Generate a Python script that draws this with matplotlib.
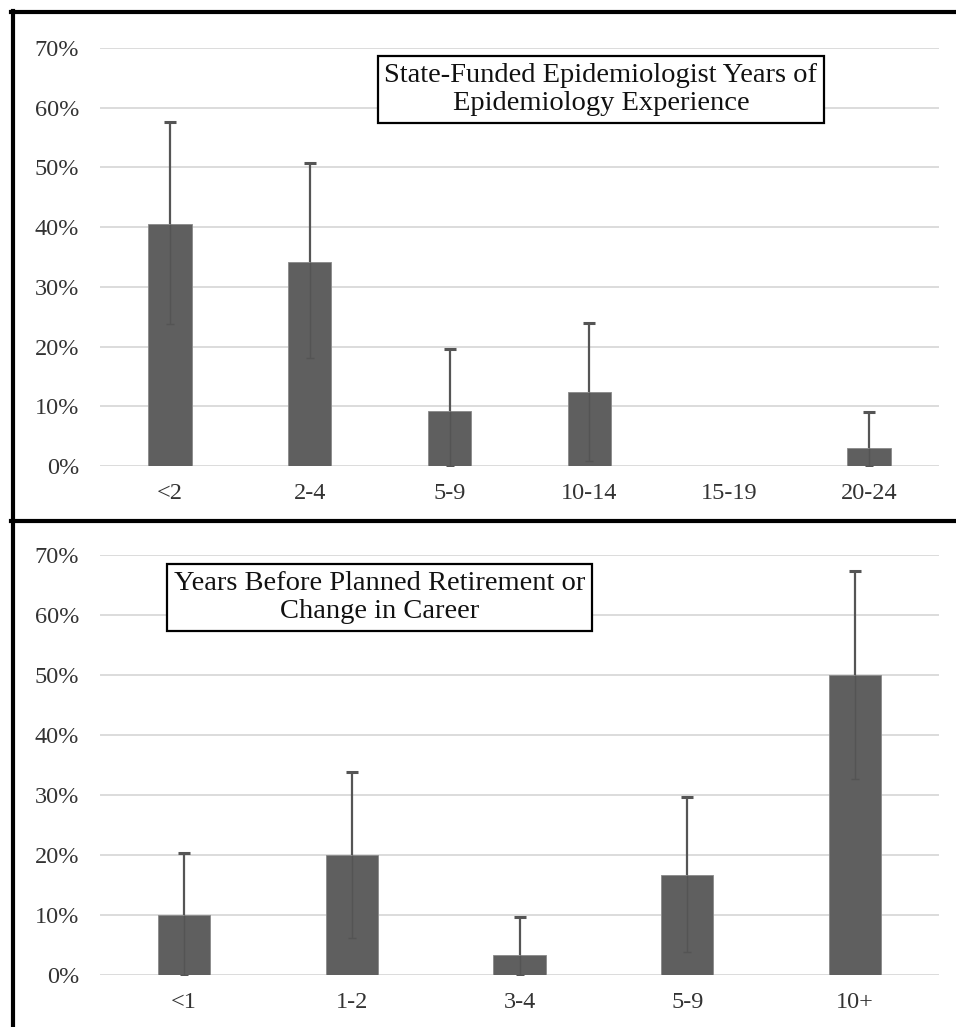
import numpy as np
import matplotlib
matplotlib.use("Agg")
import matplotlib.pyplot as plt
from matplotlib.ticker import PercentFormatter
from matplotlib.lines import Line2D

# years of epidemiology experience
exp_cats = ['<2', '2-4', '5-9', '10-14', '15-19', '20-24']
exp_vals = [0.405, 0.342, 0.092, 0.124, 0.0, 0.030]
exp_lo = [0.238, 0.181, 0.0, 0.008, np.nan, 0.0]
exp_hi = [0.576, 0.508, 0.196, 0.240, np.nan, 0.090]

# years before planned retirement or career change
ret_cats = ['<1', '1-2', '3-4', '5-9', '10+']
ret_vals = [0.100, 0.200, 0.033, 0.166, 0.500]
ret_lo = [0.0, 0.062, 0.0, 0.038, 0.327]
ret_hi = [0.203, 0.339, 0.096, 0.296, 0.673]

yticks = [0, 0.1, 0.2, 0.3, 0.4, 0.5, 0.6, 0.7]

plt.rcParams['font.family'] = ['Liberation Serif', 'DejaVu Serif']

W, H = 956, 1027
fig = plt.figure(figsize=(W / 100, H / 100), dpi=100)

BAR = '#5f5f5f'
ERR = '#555555'
GRID = '#d9d9d9'


def panel(rect, cats, vals, lo, hi):
    ax = fig.add_axes(rect)
    x = np.arange(len(cats))
    ax.bar(x, vals, width=0.31, color=BAR, edgecolor='#8a8a8a', linewidth=0.6, zorder=2)
    # upper whisker above the bar
    ax.vlines(x, vals, hi, colors=ERR, linewidth=1.6, zorder=3)
    ax.plot(x, hi, ls='none', marker='_', markersize=9, mew=2.2, color=ERR, zorder=3)
    # lower whisker inside the bar, barely visible
    ax.vlines(x, lo, vals, colors='#545454', linewidth=1.0, zorder=3)
    ax.plot(x, lo, ls='none', marker='_', markersize=6, mew=1.0, color='#545454', zorder=3)
    ax.set_xlim(-0.5, len(cats) - 0.5)
    ax.set_ylim(0, 0.7)
    ax.set_yticks(yticks)
    ax.yaxis.set_major_formatter(PercentFormatter(1.0, decimals=0))
    ax.set_xticks(x)
    ax.set_xticklabels(cats)
    ax.grid(axis='y', color=GRID, linewidth=1.3, zorder=0)
    ax.set_axisbelow(True)
    for s in ax.spines.values():
        s.set_visible(False)
    ax.tick_params(axis='both', length=0, labelsize=17.5, colors='#333333')
    ax.tick_params(axis='y', pad=15)
    ax.tick_params(axis='x', pad=12)
    return ax


panel([100 / W, 1 - 466 / H, 839 / W, 418 / H], exp_cats, exp_vals, exp_lo, exp_hi)
panel([100 / W, 1 - 975 / H, 839 / W, 420 / H], ret_cats, ret_vals, ret_lo, ret_hi)

box = dict(boxstyle='square,pad=0.24', facecolor='white', edgecolor='black', linewidth=1.6)
fig.text(601 / W, 1 - 89.5 / H, 'State-Funded Epidemiologist Years of\nEpidemiology Experience',
         ha='center', va='center', fontsize=20.5, linespacing=1.17, bbox=box, color='#111111')
fig.text(379.5 / W, 1 - 597.5 / H, 'Years Before Planned Retirement or\nChange in Career',
         ha='center', va='center', fontsize=20.5, linespacing=1.17, bbox=box, color='#111111')

# panel borders
lw = 3.0
fig.add_artist(Line2D([11 / W, 1], [1 - 12 / H, 1 - 12 / H], color='black', lw=lw, transform=fig.transFigure))
fig.add_artist(Line2D([11 / W, 1], [1 - 521 / H, 1 - 521 / H], color='black', lw=lw, transform=fig.transFigure))
fig.add_artist(Line2D([13 / W, 13 / W], [0, 1 - 11 / H], color='black', lw=lw, transform=fig.transFigure))

fig.savefig('out.png', dpi=100, facecolor='white')
